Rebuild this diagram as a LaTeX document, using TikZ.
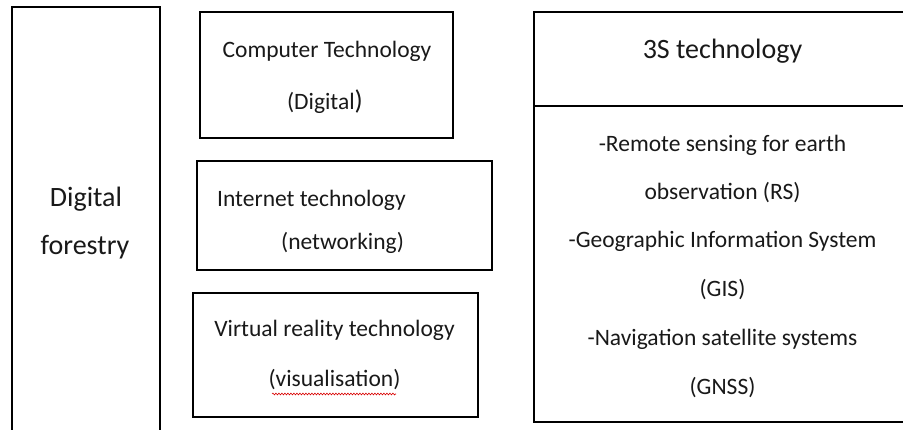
\documentclass[tikz,border=0pt]{standalone}
\usepackage{fontspec}
\setmainfont{Carlito}
\usetikzlibrary{decorations.pathmorphing}
\tikzset{
  box/.style={draw=black, line width=2.2pt, minimum width=#1, inner sep=0pt},
  small/.style={font=\fontsize{23.5}{28}\selectfont, inner sep=0pt, anchor=base, text=black!90},
  big/.style={font=\fontsize{28}{33}\selectfont, inner sep=0pt, anchor=base, text=black!90},
  squig/.style={draw=red!85!black, line width=0.6pt, decorate, decoration={snake, amplitude=0.9pt, segment length=3pt}}
}
\begin{document}
\begin{tikzpicture}[x=1pt, y=-1pt]
\useasboundingbox (0,0) rectangle (903,430);
\clip (0,0) rectangle (903,430);
\fill[white] (0,0) rectangle (903,430);
% boxes
\node[box=148pt, minimum height=433pt] (df) at (86,223.5) {};
\node[box=253pt, minimum height=126pt] (ct) at (326.5,75) {};
\node[box=295pt, minimum height=109pt] (it) at (344.5,215.5) {};
\node[box=285pt, minimum height=124pt] (vr) at (335.5,355) {};
\node[box=376pt, minimum height=94pt] (ts) at (722,59) {};
\node[box=376pt, minimum height=316pt] (tl) at (722,264) {};
% left
\node[big] (t1) at (86,207) {Digital};
\node[big] (t2) at (85,255) {forestry};
% computer
\node[small] (c1) at (327,58) {Computer Technology};
\node[small] (c2) at (325,110) {(Digital{\fontsize{27}{30}\selectfont)}};
% internet
\node[small, anchor=base west] (i1) at (217,207) {Internet technology};
\begin{scope}
\clip (190,160) rectangle (500,257);
\node[small, anchor=base west] (i2) at (281,250) {(networking)};
\end{scope}
% virtual
\node[small] (v1) at (334.5,337) {Virtual reality technology};
\node[small] (v2) at (334.5,387) {(visualisation)};
\coordinate (sqa) at (272,394);
\coordinate (sqb) at (396,394);
\draw[squig] (sqa) -- (sqb);
% 3S
\node[big] (s0) at (722.5,59) {3S technology};
\node[small] (s1) at (722.5,152) {-Remote sensing for earth};
\node[small] (s2) at (722.5,200) {observation (RS)};
\node[small] (s3) at (722.5,248) {-Geographic Information System};
\node[small] (s4) at (722.5,297) {(GIS)};
\node[small] (s5) at (722.5,346) {-Navigation satellite systems};
\node[small] (s6) at (722.5,395) {(GNSS)};
\end{tikzpicture}
\end{document}
